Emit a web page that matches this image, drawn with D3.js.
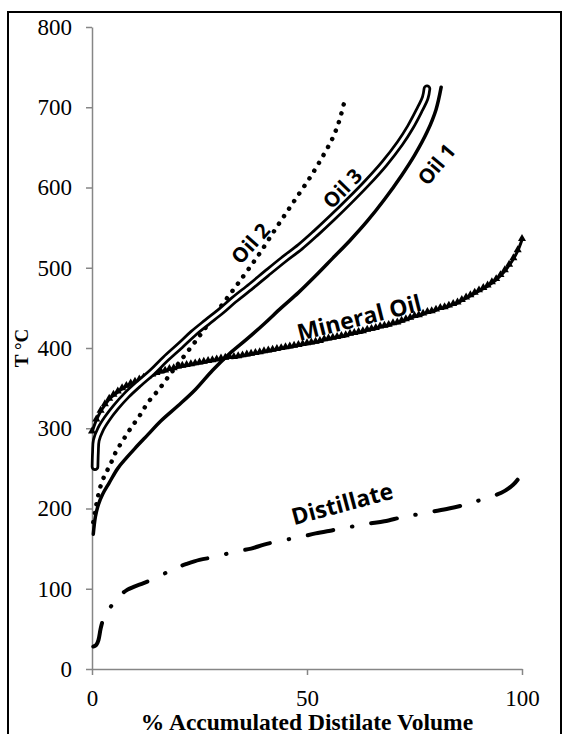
<!DOCTYPE html>
<html><head><meta charset="utf-8">
<script src="https://cdn.jsdelivr.net/npm/d3@7"></script>
<style>body{margin:0;background:#fff}svg{display:block}</style>
</head><body>
<script>
// ---- data (x = % accumulated distillate volume, y = T °C) ----
const xTickValues = [0, 50, 100];
const yTickValues = [0, 100, 200, 300, 400, 500, 600, 700, 800];

const oil1X = [0.3,0.8,1.5,2.5,4,6,8,10,13,16,20,24,28,32,36,40,44,48,52,56,60,64,68,72,75,78,80,81.2];
const oil1Y = [168,190,205,218,232,250,263,275,292,309,328,348,372,393,411,430,450,469,490,512,534,558,585,615,640,670,697,725];

const oil2X = [0.3,0.7,1.2,2,3,4.2,5.5,7.2,9,11,13,15.5,18,20,25,30,35,39,43,47,51,54,56,57.5,58.6];
const oil2Y = [183,195,210,228,242,254,270,285,300,315,332,348,366,380,415,452,488,518,551,583,615,642,662,683,705];

const oil3X = [0.7,0.8,1,2,3.5,5.5,8,11,14,17,20.5,23.5,26.7,30,33,37,40.6,44.5,48.4,52,56,60,64,68,71.6,74,76,77.5,77.9];
const oil3Y = [252,270,285,299,312,326,341,356,370,386,403,418,432,446,460,477,493,510,526,543,563,584,606,630,655,675,695,712,723];

const mineralY = [295,310,321,329,336,341,345,349,352,355,357,360,362,364,366,368,370,371,373,374,376,
 377,378,379,380,381,382,383,384,385,386,387,388,388,389,390,391,392,393,394,395,
 396,397,398,399,400,401,402,403,404,405,406,407,408,410,411,412,413,414,415,417,
 418,419,420,422,423,424,426,427,428,430,431,433,435,437,439,440,442,444,445,447,
 449,450,452,454,456,459,462,465,468,471,474,477,481,485,490,496,503,511,521,535];
const mineralX = d3.range(0, 101, 1);

const distX = [0.3,1,1.5,2,2.5,3,4,5,6,7,8,10,12,15,18,20,22,25,29,33,37,40,44,48,52,56,60,64,68,72,75,79,83,87,90,94,96,98,99,100];
const distY = [28,30,36,50,60,65,75,82,89,94,98,103,107,114,122,127,131,136,140,146,150,155,160,164,169,173,177,181,184,189,192,196,200,205,210,217,222,230,236,245];

const seriesLabels = ["Oil 1", "Oil 2", "Oil 3", "Mineral Oil", "Distillate"];

// ---- chart ----
const W = 563, H = 734;
const svg = d3.select("body").append("svg").attr("width", W).attr("height", H);

svg.append("rect").attr("x", 8).attr("y", 12).attr("width", 553).attr("height", 740)
  .attr("fill", "none").attr("stroke", "#000").attr("stroke-width", 2);

const x = d3.scaleLinear().domain([0, 100]).range([92, 522]);
const y = d3.scaleLinear().domain([0, 800]).range([669, 27]);

const serif = "'Liberation Serif','Times New Roman',serif";
const sans = "'Open Sans','Noto Sans',sans-serif";

const yAxis = svg.append("g").attr("transform", "translate(92,0)")
  .call(d3.axisLeft(y).tickValues(yTickValues).tickSize(6).tickPadding(14).tickSizeOuter(0));
const xAxis = svg.append("g").attr("transform", "translate(0,669)")
  .call(d3.axisBottom(x).tickValues(xTickValues).tickSize(6).tickPadding(14).tickSizeOuter(0));
[xAxis, yAxis].forEach(g => {
  g.select(".domain").attr("stroke", "#868686").attr("stroke-width", 1.5);
  g.selectAll(".tick line").attr("stroke", "#868686").attr("stroke-width", 1.5);
  g.selectAll(".tick text").attr("fill", "#000").style("font-family", serif).style("font-size", "23px");
});
xAxis.selectAll(".tick text").attr("dy", "0.75em");

const zip = (xs, ys) => xs.map((v, i) => [v, ys[i]]);
const line = d3.line().x(d => x(d[0])).y(d => y(d[1])).curve(d3.curveCatmullRom.alpha(0.5));

const plot = svg.append("g");

// Distillate: dash-dot
plot.append("path").datum(zip(distX, distY)).attr("d", line)
  .attr("fill", "none").attr("stroke", "#000").attr("stroke-width", 4)
  .attr("stroke-linecap", "round").attr("stroke-dasharray", "26,19,0.5,19");

// Mineral oil: triangles
const mineral = zip(mineralX, mineralY);
plot.append("path").datum(mineral).attr("d", line)
  .attr("fill", "none").attr("stroke", "#000").attr("stroke-width", 3);
plot.selectAll(".tri").data(mineral).enter().append("path")
  .attr("d", d3.symbol(d3.symbolTriangle, 28))
  .attr("transform", d => `translate(${x(d[0])},${y(d[1]) - 1})`)
  .attr("fill", "#000");

// Oil 1: solid
plot.append("path").datum(zip(oil1X, oil1Y)).attr("d", line)
  .attr("fill", "none").attr("stroke", "#000").attr("stroke-width", 3.5)
  .attr("stroke-linecap", "round").attr("stroke-linejoin", "round");

// Oil 2: dotted
plot.append("path").datum(zip(oil2X, oil2Y)).attr("d", line)
  .attr("fill", "none").attr("stroke", "#000").attr("stroke-width", 4.5)
  .attr("stroke-linecap", "round").attr("stroke-dasharray", "0.1,9");

// Oil 3: double line
const oil3 = zip(oil3X, oil3Y);
plot.append("path").datum(oil3).attr("d", line)
  .attr("fill", "none").attr("stroke", "#000").attr("stroke-width", 8.5)
  .attr("stroke-linecap", "round").attr("stroke-linejoin", "round");
plot.append("path").datum(oil3).attr("d", line)
  .attr("fill", "none").attr("stroke", "#fff").attr("stroke-width", 3)
  .attr("stroke-linecap", "round").attr("stroke-linejoin", "round");

// series labels
const labelPos = [
  {t: seriesLabels[0], x: 436, y: 164, r: -50, s: 20.5},
  {t: seriesLabels[1], x: 250, y: 243, r: -48, s: 20.5},
  {t: seriesLabels[2], x: 342, y: 188, r: -46, s: 20.5},
  {t: seriesLabels[3], x: 359, y: 317, r: -14, s: 23},
  {t: seriesLabels[4], x: 342, y: 503, r: -15, s: 23}
];
svg.selectAll(".lbl").data(labelPos).enter().append("text")
  .attr("transform", d => `translate(${d.x},${d.y}) rotate(${d.r})`)
  .attr("text-anchor", "middle").attr("dominant-baseline", "central")
  .style("font-family", sans).style("font-weight", 700).style("font-size", d => d.s + "px")
  .text(d => d.t);

// axis titles
svg.append("text").attr("x", 307).attr("y", 730).attr("text-anchor", "middle")
  .style("font-family", serif).style("font-weight", 700).style("font-size", "23.5px")
  .text("% Accumulated Distilate Volume");
svg.append("text").attr("transform", "translate(28,348) rotate(-90)").attr("text-anchor", "middle")
  .style("font-family", serif).style("font-weight", 700).style("font-size", "19px")
  .text("T °C");
</script>
</body></html>
